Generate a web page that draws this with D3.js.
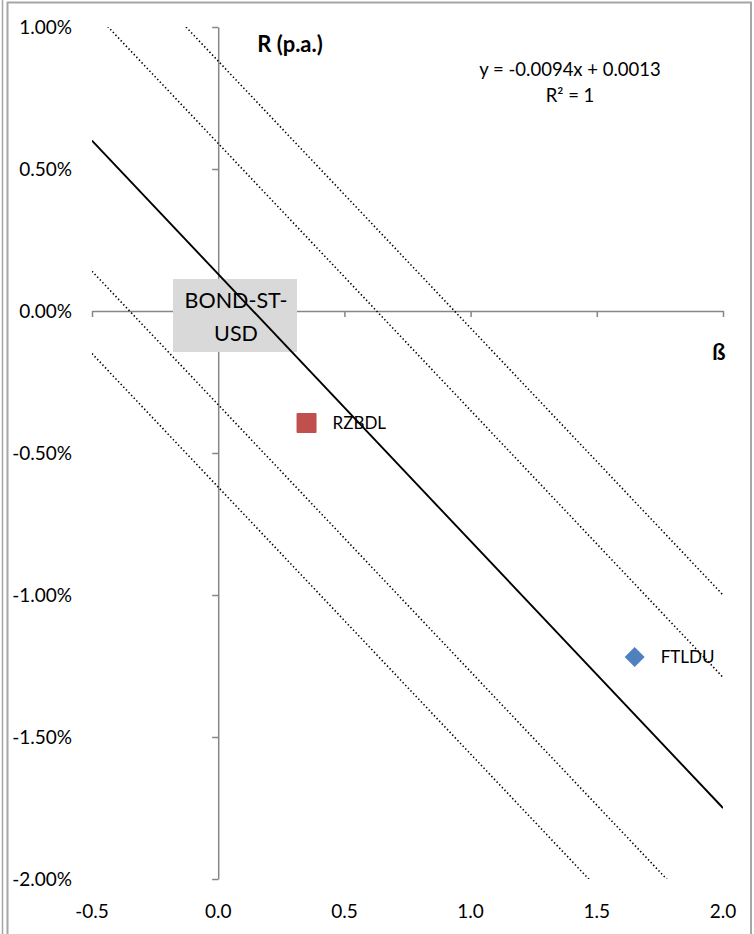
<!DOCTYPE html>
<html>
<head>
<meta charset="utf-8">
<script src="https://cdn.jsdelivr.net/npm/d3@7/dist/d3.min.js"></script>
<style>
html,body{margin:0;padding:0;background:#fff;}
svg{display:block;}
text{font-family:Lato,"Open Sans",sans-serif;fill:#000;}
</style>
</head>
<body>
<script>
// ---- data ----
const xTicks = [-0.5, 0.0, 0.5, 1.0, 1.5, 2.0];
const xTickLabels = ["-0.5", "0.0", "0.5", "1.0", "1.5", "2.0"];
const yTicks = [0.01, 0.005, 0, -0.005, -0.01, -0.015, -0.02];
const yTickLabels = ["1.00%", "0.50%", "0.00%", "-0.50%", "-1.00%", "-1.50%", "-2.00%"];
const points = [
  {name: "FTLDU", beta: 1.65, r: -0.01218, shape: "diamond", color: "#4f81bd"},
  {name: "RZBDL", beta: 0.35, r: -0.00394, shape: "square", color: "#c0504d"}
];
const bondLabel = {lines: ["BOND-ST-", "USD"]};
const slope = -0.0094;
const intercept = 0.0013;
const bandIntercepts = [0.0088, 0.0059, -0.0033, -0.0062];
const equationText = ["y = -0.0094x + 0.0013", "R² = 1"];

// ---- layout ----
const W = 754, H = 934;
const svg = d3.select("body").append("svg").attr("width", W).attr("height", H);

const x = d3.scaleLinear().domain([-0.5, 2.0]).range([92, 723]);
const y = d3.scaleLinear().domain([-0.02, 0.01]).range([879, 27]);

// frame
const frameColor = "#a6a6a6";
svg.append("line").attr("x1", 2.5).attr("x2", 2.5).attr("y1", 0).attr("y2", H).attr("stroke", frameColor).attr("stroke-width", 1.5);
svg.append("line").attr("x1", 7.5).attr("x2", 7.5).attr("y1", 2).attr("y2", H).attr("stroke", frameColor).attr("stroke-width", 2);
svg.append("line").attr("x1", 7).attr("x2", 752).attr("y1", 2.5).attr("y2", 2.5).attr("stroke", frameColor).attr("stroke-width", 2);
svg.append("line").attr("x1", 751).attr("x2", 751).attr("y1", 2).attr("y2", H).attr("stroke", frameColor).attr("stroke-width", 2);

// clip for lines
svg.append("clipPath").attr("id", "plot").append("rect")
  .attr("x", x(-0.5)).attr("y", y(0.01)).attr("width", x(2) - x(-0.5)).attr("height", y(-0.02) - y(0.01));

const axisColor = "#868686";
// x axis at y=0
const xAxis = svg.append("g").attr("transform", `translate(0,${y(0)})`)
  .call(d3.axisBottom(x).tickValues(xTicks).tickSize(6).tickSizeOuter(0).tickFormat(""));
xAxis.select(".domain").attr("stroke", axisColor).attr("stroke-width", 1.5);
xAxis.selectAll(".tick line").attr("stroke", axisColor).attr("stroke-width", 1.5);

// y axis at x=0
const yAxis = svg.append("g").attr("transform", `translate(${x(0)},0)`)
  .call(d3.axisLeft(y).tickValues(yTicks).tickSize(6).tickSizeOuter(0).tickFormat(""));
yAxis.select(".domain").attr("stroke", axisColor).attr("stroke-width", 1.5);
yAxis.selectAll(".tick line").attr("stroke", axisColor).attr("stroke-width", 1.5);

// tick labels
svg.append("g").selectAll("text").data(yTicks).join("text")
  .attr("x", 72).attr("y", d => y(d)).attr("dy", "0.36em")
  .attr("text-anchor", "end").attr("font-size", 19)
  .text((d, i) => yTickLabels[i]);
svg.append("g").selectAll("text").data(xTicks).join("text")
  .attr("x", d => x(d)).attr("y", 918)
  .attr("text-anchor", "middle").attr("font-size", 19)
  .text((d, i) => xTickLabels[i]);

// BOND label box (under lines)
svg.append("rect").attr("x", 173).attr("y", 279).attr("width", 124).attr("height", 73).attr("fill", "#d9d9d9");
svg.append("text").attr("x", 236).attr("y", 308).attr("text-anchor", "middle").attr("font-size", 21.5).text(bondLabel.lines[0]);
svg.append("text").attr("x", 236).attr("y", 341).attr("text-anchor", "middle").attr("font-size", 21.5).text(bondLabel.lines[1]);

// lines
const lg = svg.append("g").attr("clip-path", "url(#plot)");
const xs = [-0.5, 2.0];
lg.selectAll("line.band").data(bandIntercepts).join("line").attr("class", "band")
  .attr("x1", x(xs[0])).attr("x2", x(xs[1]))
  .attr("y1", d => y(d + slope * xs[0])).attr("y2", d => y(d + slope * xs[1]))
  .attr("stroke", "#000").attr("stroke-width", 1.6).attr("stroke-dasharray", "1.4,2.4");
lg.append("line")
  .attr("x1", x(xs[0])).attr("x2", x(xs[1]))
  .attr("y1", y(intercept + slope * xs[0])).attr("y2", y(intercept + slope * xs[1]))
  .attr("stroke", "#000").attr("stroke-width", 1.9);

// points
const pg = svg.append("g");
points.forEach(p => {
  const cx = x(p.beta), cy = y(p.r);
  if (p.shape === "square") {
    pg.append("rect").attr("x", cx - 10).attr("y", cy - 10).attr("width", 20).attr("height", 20)
      .attr("rx", 1).attr("fill", p.color);
  } else {
    pg.append("path").attr("d", `M${cx},${cy-10}L${cx+10},${cy}L${cx},${cy+10}L${cx-10},${cy}Z`).attr("fill", p.color);
  }
  pg.append("text").attr("x", cx + 26).attr("y", cy).attr("dy", "0.36em").attr("font-size", 17).text(p.name);
});

// equation
svg.append("text").attr("x", 570).attr("y", 76).attr("text-anchor", "middle").attr("font-size", 18.5).text(equationText[0]);
svg.append("text").attr("x", 570).attr("y", 102).attr("text-anchor", "middle").attr("font-size", 18.5).text(equationText[1]);

// axis titles
svg.append("text").attr("x", 290).attr("y", 52).attr("text-anchor", "middle").attr("font-size", 22).attr("font-weight", "bold").text("R (p.a.)");
svg.append("text").attr("x", 719).attr("y", 360).attr("text-anchor", "middle").attr("font-size", 22).attr("font-weight", "bold").text("ß");
</script>
</body>
</html>
